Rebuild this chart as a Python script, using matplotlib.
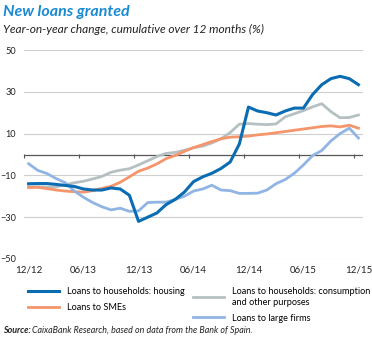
import matplotlib
matplotlib.use("Agg")
import matplotlib.pyplot as plt
import numpy as np

plt.rcParams['font.family'] = ['Lato', 'DejaVu Sans']

# monthly observations, 12/12 .. 12/15
months = np.arange(37)
tick_labels = ['12/12', '06/13', '12/13', '06/14', '12/14', '06/15', '12/15']
tick_months = [0, 6, 12, 18, 24, 30, 36]
y_ticks = [-50, -30, -10, 10, 30, 50]

housing = [-14, -13.9, -13.9, -14.3, -14.8, -15.3, -16.5, -17, -17, -16,
           -16.5, -19.5, -32, -30, -28, -24, -21.5, -18, -13, -10.7,
           -9, -6.7, -3.6, 5, 22.7, 20.8, 20, 18.9, 20.8, 22.2,
           22.2, 28.7, 33.4, 36.3, 37.4, 36.3, 33.4]
smes = [-15.8, -15.7, -16.3, -17, -17.5, -17.8, -18, -17.3, -16.2, -15.2,
        -13.3, -10.7, -8, -6.5, -4.5, -2, -0.5, 1.5, 3.3, 4.7,
        6.2, 7.5, 8.3, 8.5, 8.8, 9.4, 9.8, 10.4, 11, 11.6,
        12.2, 12.8, 13.4, 13.7, 13.2, 14, 12.6]
consumption = [-15.5, -15.5, -15.6, -15.5, -14.5, -13.5, -12.8, -11.7, -10.5, -8.5,
               -7.5, -6.8, -5, -3, -1, 0.5, 1, 2, 3.2, 4,
               5.5, 7.5, 10.5, 14.5, 14.8, 14.5, 14.3, 14.6, 18, 19.5,
               21, 22.8, 24.3, 20.5, 17.6, 17.7, 18.9]
large_firms = [-4.4, -7.6, -9.1, -11.5, -13.5, -17.5, -20.5, -23, -25, -26.5,
               -25.7, -27.2, -27, -23, -22.8, -22.8, -21.5, -20, -17.5, -16.5,
               -14.7, -17, -17.3, -18.6, -18.6, -18.5, -17, -14, -12, -9,
               -5, -0.5, 1.9, 6.5, 10, 12.6, 7.9]

fig = plt.figure(figsize=(3.72, 3.38), dpi=100)
ax = fig.add_axes([24 / 372, 1 - 259 / 338, 339 / 372, 209 / 338])

# points sit between tick marks (category axis)
x = months + 0.5
l_cons, = ax.plot(x, consumption, color='#b5c0c2', lw=2.0,
                  label='Loans to households: consumption\nand other purposes')
l_sme, = ax.plot(x, smes, color='#f5956b', lw=2.0, label='Loans to SMEs')
l_large, = ax.plot(x, large_firms, color='#90b5e4', lw=2.0, label='Loans to large firms')
l_house, = ax.plot(x, housing, color='#0a6cb3', lw=2.2, label='Loans to households: housing')

ax.set_xlim(0, 37)
ax.set_ylim(-50, 50)
ax.set_yticks(y_ticks)
ax.grid(axis='y', color='#cfcfcf', lw=0.8)
ax.set_axisbelow(True)
ax.axhline(0, color='#555555', lw=0.9, zorder=1.5)
for s in ax.spines.values():
    s.set_visible(False)
ax.tick_params(axis='y', length=0, pad=5.8, labelsize=6.6, labelcolor='#222222')
ax.set_xticks(np.array(tick_months) + 0.5)
ax.set_xticklabels(tick_labels)
ax.tick_params(axis='x', length=0, pad=5, labelsize=7, labelcolor='#222222')

# tick marks on the zero line
sec = ax.secondary_xaxis(0.5)
sec.set_xticks(tick_months)
sec.tick_params(axis='x', direction='in', length=3, width=0.8, color='#555555',
                labelbottom=False, labeltop=False)
sec.spines['top'].set_visible(False)
sec.spines['bottom'].set_visible(False)

fig.text(0.008, 1 - 16 / 338, 'New loans granted', fontsize=11.5, fontweight='bold',
         fontstyle='italic', color='#1a8ad3', va='baseline')
fig.text(0.008, 1 - 33 / 338, 'Year-on-year change, cumulative over 12 months (%)',
         fontsize=8.6, fontstyle='italic', color='#222222', va='baseline')

leg_kw = dict(frameon=False, loc='upper left', fontsize=6.6, handlelength=3.4,
              handletextpad=0.9, labelspacing=0.75, borderaxespad=0, borderpad=0)
leg1 = fig.legend(handles=[l_house, l_sme], bbox_to_anchor=(28 / 372, 1 - 287 / 338), **leg_kw)
leg2 = fig.legend(handles=[l_cons, l_large], bbox_to_anchor=(193 / 372, 1 - 287 / 338), **leg_kw)
for t in leg2.get_texts():
    t.set_linespacing(1.25)

src = fig.text(0.008, 1 - 333 / 338, 'Source:', fontsize=6.4, fontweight='bold',
               fontstyle='italic', color='#222222', va='baseline')
fig.canvas.draw()
bb = src.get_window_extent().transformed(fig.transFigure.inverted())
fig.text(bb.x1 + 0.004, 1 - 333 / 338,
         'CaixaBank Research, based on data from the Bank of Spain.',
         fontsize=6.4, fontstyle='italic', color='#222222', va='baseline')

fig.savefig('out.png', dpi=100)
